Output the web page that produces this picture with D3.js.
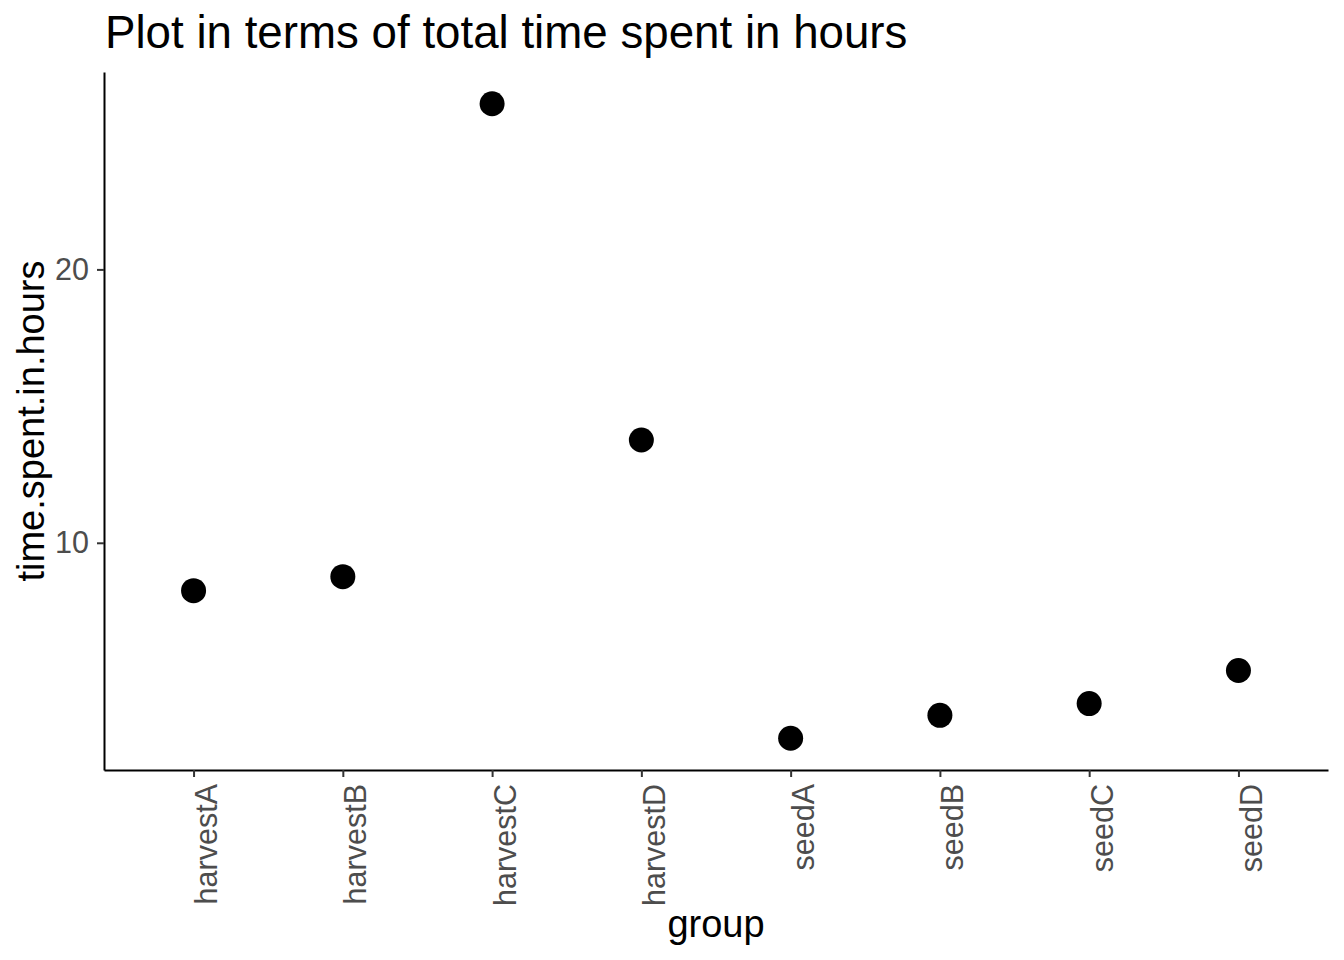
<!DOCTYPE html>
<html>
<head>
<meta charset="utf-8">
<script src="https://cdn.jsdelivr.net/npm/d3@7"></script>
<style>
  body { margin: 0; background: #fff; }
  svg { font-family: "Liberation Sans", Arial, sans-serif; }
</style>
</head>
<body>
<svg id="chart"></svg>
<script>
const groups = ["harvestA", "harvestB", "harvestC", "harvestD", "seedA", "seedB", "seedC", "seedD"];
const hours = [8.25, 8.76, 26.06, 13.76, 2.85, 3.69, 4.12, 5.33];
const yTicks = [10, 20];

const width = 1344;
const height = 960;
const margin = { top: 72, right: 16, bottom: 190, left: 104 };

const svg = d3.select("#chart")
  .attr("width", width)
  .attr("height", height);

const innerW = width - margin.left - margin.right;
const innerH = height - margin.top - margin.bottom;

// discrete axis, 0.6 unit expansion each side like ggplot
const xScale = d3.scalePoint()
  .domain(groups)
  .range([0, innerW])
  .padding(0.6);

const yMin = d3.min(hours), yMax = d3.max(hours);
const pad = (yMax - yMin) * 0.05;
const yScale = d3.scaleLinear()
  .domain([yMin - pad, yMax + pad])
  .range([innerH, 0]);

const g = svg.append("g")
  .attr("transform", `translate(${margin.left},${margin.top})`);

// axes
const xAxis = g.append("g")
  .attr("transform", `translate(0,${innerH})`)
  .call(d3.axisBottom(xScale).tickSize(7).tickSizeOuter(0).tickPadding(6));

xAxis.select(".domain").attr("stroke", "#000").attr("stroke-width", 2);
xAxis.selectAll(".tick line").attr("stroke", "#333").attr("stroke-width", 2);
xAxis.selectAll(".tick text")
  .attr("fill", "#4d4d4d")
  .style("font-size", "30.5px")
  .attr("text-anchor", "end")
  .attr("dy", null)
  .attr("y", 0)
  .attr("x", 0)
  .attr("transform", "translate(23,14) rotate(-90)");

const yAxis = g.append("g")
  .call(d3.axisLeft(yScale).tickValues(yTicks).tickSize(7).tickSizeOuter(0).tickPadding(8));

yAxis.select(".domain").attr("stroke", "#000").attr("stroke-width", 2);
yAxis.selectAll(".tick line").attr("stroke", "#333").attr("stroke-width", 2);
yAxis.selectAll(".tick text")
  .attr("fill", "#4d4d4d")
  .style("font-size", "30.5px");

// points
g.selectAll("circle")
  .data(groups)
  .enter()
  .append("circle")
  .attr("cx", d => xScale(d))
  .attr("cy", (d, i) => yScale(hours[i]))
  .attr("r", 12.5)
  .attr("fill", "#000");

// titles
svg.append("text")
  .attr("x", 105)
  .attr("y", 48)
  .style("font-size", "45.7px")
  .attr("fill", "#000")
  .text("Plot in terms of total time spent in hours");

svg.append("text")
  .attr("x", margin.left + innerW / 2)
  .attr("y", 937)
  .attr("text-anchor", "middle")
  .style("font-size", "38px")
  .attr("fill", "#000")
  .text("group");

svg.append("text")
  .attr("transform", `translate(44,${margin.top + innerH / 2}) rotate(-90)`)
  .attr("text-anchor", "middle")
  .style("font-size", "38px")
  .attr("fill", "#000")
  .text("time.spent.in.hours");
</script>
</body>
</html>
